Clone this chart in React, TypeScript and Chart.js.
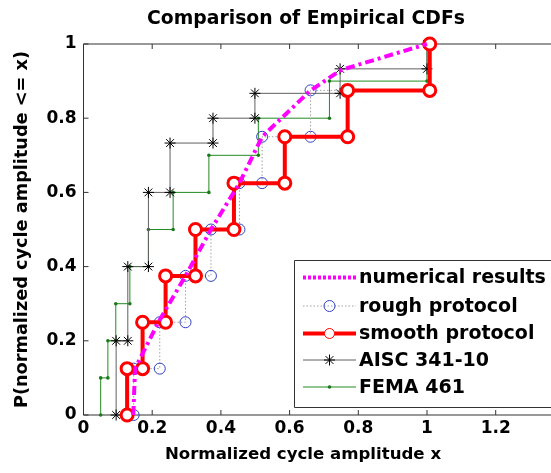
import React, { useEffect, useRef } from 'react';
import { Chart, registerables } from 'chart.js';

Chart.register(...registerables);

const FONT = '"DejaVu Sans", "Liberation Sans", sans-serif';

const chartTitle = 'Comparison of Empirical CDFs';
const xTitle = 'Normalized cycle amplitude x';
const yTitle = 'P(normalized cycle amplitude <= x)';
const xTicks = [0, 0.2, 0.4, 0.6, 0.8, 1, 1.2, 1.4];
const yTicks = [0, 0.2, 0.4, 0.6, 0.8, 1];
const seriesNames = ['numerical results', 'rough protocol', 'smooth protocol', 'AISC 341-10', 'FEMA 461'];

// numerical results (continuous curve)
const numericalX = [0.145, 0.15, 0.218, 0.297, 0.371, 0.454, 0.52, 0.661, 0.75, 1.0];
const numericalP = [0, 0.125, 0.25, 0.375, 0.5, 0.625, 0.75, 0.875, 0.93, 1.0];

// experimental protocols (8 cycles each)
const protocolLevels = [0, 0.125, 0.25, 0.375, 0.5, 0.625, 0.75, 0.875, 1];
const roughX = [0.146, 0.222, 0.297, 0.371, 0.454, 0.52, 0.661, 1.005];
const smoothX = [0.127, 0.172, 0.239, 0.326, 0.438, 0.586, 0.769, 1.008];

// AISC 341-10 protocol
const aiscLevels = [0, 0.2, 0.4, 0.6, 0.733, 0.8, 0.867, 0.933, 1];
const aiscX = [0.095, 0.129, 0.189, 0.252, 0.377, 0.499, 0.747, 1.0];

// FEMA 461 protocol
const femaLevels = [0, 0.1, 0.2, 0.3, 0.4, 0.5, 0.6, 0.7, 0.8, 0.9, 1.0];
const femaX = [0.05, 0.071, 0.094, 0.135, 0.189, 0.261, 0.365, 0.509, 0.716, 1.0];

type Style = {
  color: string; width: number; dash: number[];
  marker: 'none' | 'circle' | 'star' | 'dot';
  mColor?: string; mRadius?: number; mWidth?: number; mFill?: string;
};

const styles: Style[] = [
  { color: '#ff00ff', width: 4, dash: [9, 4, 3, 4], marker: 'none' },
  { color: '#a0a0a0', width: 1, dash: [1.5, 2], marker: 'circle', mColor: '#3040c0', mRadius: 5.5, mWidth: 1 },
  { color: '#ff0000', width: 4, dash: [], marker: 'circle', mColor: '#ff0000', mRadius: 6, mWidth: 3, mFill: '#ffffff' },
  { color: '#606060', width: 1, dash: [], marker: 'star', mColor: '#000000', mRadius: 5.5, mWidth: 1 },
  { color: '#228b22', width: 1, dash: [], marker: 'dot', mColor: '#1a7a1a', mRadius: 1.8 },
];

function stepCorners(xs: number[], levels: number[]) {
  const pts: { x: number; y: number }[] = [];
  xs.forEach((x, i) => {
    pts.push({ x, y: levels[i] });
    pts.push({ x, y: levels[i + 1] });
  });
  return pts;
}

function drawMarker(ctx: CanvasRenderingContext2D, s: Style, x: number, y: number) {
  if (s.marker === 'none') return;
  const r = s.mRadius || 3;
  ctx.save();
  ctx.setLineDash([]);
  ctx.strokeStyle = s.mColor || s.color;
  ctx.fillStyle = s.mFill || s.mColor || s.color;
  ctx.lineWidth = s.mWidth || 1;
  if (s.marker === 'circle') {
    ctx.beginPath();
    ctx.arc(x, y, r, 0, Math.PI * 2);
    if (s.mFill) ctx.fill();
    ctx.stroke();
  } else if (s.marker === 'dot') {
    ctx.beginPath();
    ctx.arc(x, y, r, 0, Math.PI * 2);
    ctx.fill();
  } else if (s.marker === 'star') {
    ctx.beginPath();
    for (let k = 0; k < 4; k++) {
      const a = (k * Math.PI) / 4;
      ctx.moveTo(x - r * Math.cos(a), y - r * Math.sin(a));
      ctx.lineTo(x + r * Math.cos(a), y + r * Math.sin(a));
    }
    ctx.stroke();
  }
  ctx.restore();
}

const framePlugin = {
  id: 'matlabFrame',
  beforeDatasetsDraw(chart: any) {
    const { ctx, chartArea } = chart;
    const { left, right, top, bottom } = chartArea;
    const xs = chart.scales.x;
    const ys = chart.scales.y;
    ctx.save();
    ctx.strokeStyle = '#333333';
    ctx.lineWidth = 1;
    ctx.beginPath();
    ctx.moveTo(right, top);
    ctx.lineTo(left, top);
    ctx.lineTo(left, bottom);
    ctx.lineTo(right, bottom);
    ctx.stroke();
    ctx.beginPath();
    xTicks.forEach((v) => {
      const px = xs.getPixelForValue(v);
      ctx.moveTo(px, bottom);
      ctx.lineTo(px, bottom - 5);
      ctx.moveTo(px, top);
      ctx.lineTo(px, top + 5);
    });
    yTicks.forEach((v) => {
      const py = ys.getPixelForValue(v);
      ctx.moveTo(left, py);
      ctx.lineTo(left + 5, py);
    });
    ctx.stroke();
    ctx.restore();
  },
  afterDraw(chart: any) {
    const { ctx } = chart;
    ctx.save();
    ctx.fillStyle = '#000';
    ctx.textAlign = 'center';
    ctx.textBaseline = 'middle';
    // chart title
    ctx.font = `bold 18.8px ${FONT}`;
    ctx.fillText(chartTitle, 306, 19.5);
    // x axis title
    ctx.font = `bold 16.6px ${FONT}`;
    ctx.fillText(xTitle, 303, 455);

    // legend
    const bx = 294, by = 260, bh = 147;
    ctx.fillStyle = '#ffffff';
    ctx.fillRect(bx, by, 400, bh);
    ctx.strokeStyle = '#333333';
    ctx.lineWidth = 1;
    ctx.beginPath();
    ctx.moveTo(bx + 700, by + 0.5);
    ctx.lineTo(bx + 0.5, by + 0.5);
    ctx.lineTo(bx + 0.5, by + bh + 0.5);
    ctx.lineTo(bx + 700, by + bh + 0.5);
    ctx.stroke();
    const rowY = [277.5, 306, 333.5, 360, 387];
    seriesNames.forEach((name, i) => {
      const s = styles[i];
      const y = rowY[i];
      ctx.save();
      ctx.strokeStyle = s.color;
      ctx.lineWidth = s.width;
      ctx.setLineDash(s.marker === 'none' ? [3, 2] : s.dash);
      ctx.beginPath();
      ctx.moveTo(303, y);
      ctx.lineTo(356, y);
      ctx.stroke();
      ctx.restore();
      if (s.marker !== 'none') {
        const ms = { ...s, mWidth: i === 2 ? 1 : s.mWidth, mRadius: i === 2 ? 5 : s.mRadius };
        drawMarker(ctx, ms, 329.5, y);
      }
      ctx.font = `bold 19px ${FONT}`;
      ctx.fillStyle = '#000';
      ctx.textAlign = 'left';
      ctx.textBaseline = 'middle';
      ctx.fillText(name, 359, y + 1);
    });
    ctx.restore();
  },
};

export default function App() {
  const canvasRef = useRef<HTMLCanvasElement | null>(null);

  useEffect(() => {
    if (!canvasRef.current) return;
    const tickFont = { family: FONT, size: 17, weight: 'bold' as const };
    const chart = new Chart(canvasRef.current, {
      type: 'scatter',
      data: {
        datasets: [
          {
            label: seriesNames[0],
            data: numericalX.map((x, i) => ({ x, y: numericalP[i] })),
            showLine: true,
            borderColor: styles[0].color,
            borderWidth: styles[0].width,
            borderDash: styles[0].dash,
            pointRadius: 0,
            order: 0,
            clip: false as any,
          },
          {
            label: seriesNames[1],
            data: stepCorners(roughX, protocolLevels),
            showLine: true,
            borderColor: styles[1].color,
            borderWidth: styles[1].width,
            borderDash: styles[1].dash,
            pointStyle: 'circle',
            pointRadius: styles[1].mRadius,
            pointBorderWidth: styles[1].mWidth,
            pointBorderColor: styles[1].mColor,
            pointBackgroundColor: 'rgba(0,0,0,0)',
            order: 2,
            clip: false as any,
          },
          {
            label: seriesNames[2],
            data: stepCorners(smoothX, protocolLevels),
            showLine: true,
            borderColor: styles[2].color,
            borderWidth: styles[2].width,
            pointStyle: 'circle',
            pointRadius: styles[2].mRadius,
            pointBorderWidth: styles[2].mWidth,
            pointBorderColor: styles[2].mColor,
            pointBackgroundColor: styles[2].mFill,
            order: 1,
            clip: false as any,
          },
          {
            label: seriesNames[3],
            data: stepCorners(aiscX, aiscLevels),
            showLine: true,
            borderColor: styles[3].color,
            borderWidth: styles[3].width,
            pointStyle: 'star',
            pointRadius: styles[3].mRadius,
            pointBorderWidth: styles[3].mWidth,
            pointBorderColor: styles[3].mColor,
            order: 3,
            clip: false as any,
          },
          {
            label: seriesNames[4],
            data: stepCorners(femaX, femaLevels),
            showLine: true,
            borderColor: styles[4].color,
            borderWidth: styles[4].width,
            pointStyle: 'circle',
            pointRadius: styles[4].mRadius,
            pointBorderWidth: 0,
            pointBackgroundColor: styles[4].mColor,
            order: 4,
            clip: false as any,
          },
        ],
      },
      options: {
        animation: false,
        responsive: false,
        devicePixelRatio: 1,
        layout: { padding: { left: 0, top: 44, right: 47.6, bottom: 0 } },
        plugins: {
          legend: { display: false },
          tooltip: { enabled: false },
          title: { display: false },
        },
        elements: { line: { tension: 0 } },
        scales: {
          x: {
            type: 'linear',
            min: 0,
            max: 1.4,
            afterBuildTicks: (s: any) => {
              s.ticks = xTicks.map((v) => ({ value: v }));
            },
            afterFit: (s: any) => {
              s.height = 58;
            },
            ticks: {
              font: tickFont,
              color: '#000',
              padding: 3,
              maxRotation: 0,
              autoSkip: false,
              callback: (v: any) => (Number(v) === 1.4 ? '' : String(v)),
            },
            grid: { display: false, drawTicks: false },
            border: { display: false },
          },
          y: {
            type: 'linear',
            min: 0,
            max: 1,
            afterBuildTicks: (s: any) => {
              s.ticks = yTicks.map((v) => ({ value: v }));
            },
            afterFit: (s: any) => {
              s.width = 83.5;
            },
            ticks: {
              font: tickFont,
              color: '#000',
              padding: 7,
              autoSkip: false,
              callback: (v: any) => String(v),
            },
            title: {
              display: true,
              text: yTitle,
              color: '#000',
              font: { family: FONT, size: 17.7, weight: 'bold' },
              padding: { top: 11.5, bottom: 0 },
            },
            grid: { display: false, drawTicks: false },
            border: { display: false },
          },
        },
      },
      plugins: [framePlugin],
    });
    return () => chart.destroy();
  }, []);

  return (
    <div
      style={{
        position: 'fixed',
        left: 0,
        top: 0,
        width: 551,
        height: 473,
        overflow: 'hidden',
        background: '#fff',
      }}
    >
      <canvas ref={canvasRef} width={612} height={473} style={{ display: 'block' }} />
    </div>
  );
}
